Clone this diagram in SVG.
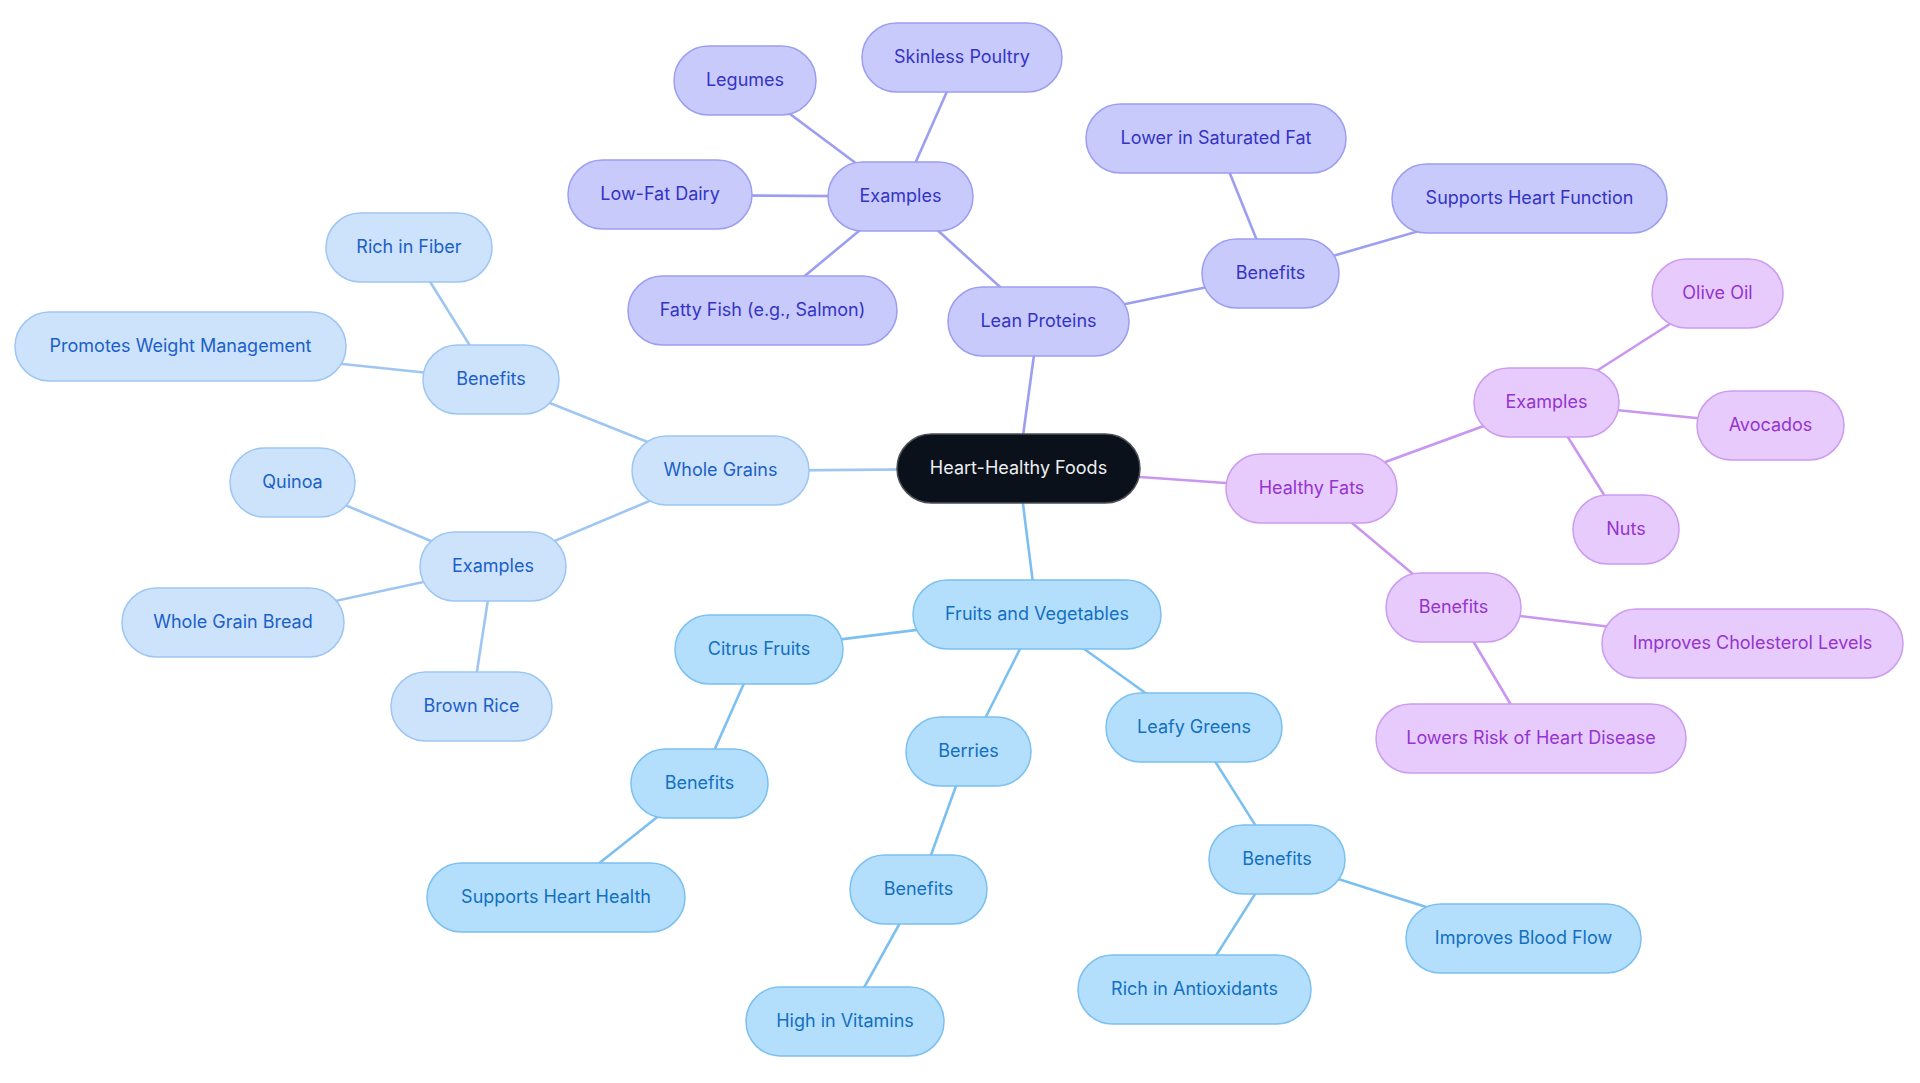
<svg xmlns="http://www.w3.org/2000/svg" width="1920" height="1083" viewBox="0 0 1920 1083">
<style>
text{font-family:Inter,"Noto Sans","Liberation Sans",sans-serif;font-size:18px;text-anchor:middle;dominant-baseline:central}
.n text{transform:translateY(-1.2px)}
.n rect{stroke-width:1.5}
.root rect{fill:#0b111b;stroke:#4b5058}
.root text{fill:#eceef1}
.wg rect{fill:#cde3fb;stroke:#9ec6f2}
.wg text{fill:#1b60c8}
.lp rect{fill:#c9cafc;stroke:#9c9ef0}
.lp text{fill:#3434c4}
.hf rect{fill:#e7cbfc;stroke:#cc9cf0}
.hf text{fill:#9534d0}
.fv rect{fill:#b3dffd;stroke:#7cc0f0}
.fv text{fill:#136fc0}
#edges line{stroke-width:2.6;fill:none}
.ewg{stroke:#9ec6f2}
.elp{stroke:#9c9ef0}
.ehf{stroke:#c996f0}
.efv{stroke:#7cc0f0}
</style>
<rect width="1920" height="1083" fill="#ffffff"/>
<g id="edges">
<line class="ewg" x1="1018.5" y1="468.5" x2="720.5" y2="471"/>
<line class="elp" x1="1018.5" y1="468.5" x2="1038.5" y2="322"/>
<line class="ehf" x1="1018.5" y1="468.5" x2="1311.5" y2="489"/>
<line class="efv" x1="1018.5" y1="468.5" x2="1037" y2="615"/>
<line class="ewg" x1="720.5" y1="471" x2="491" y2="379.5"/>
<line class="ewg" x1="491" y1="379.5" x2="409" y2="248"/>
<line class="ewg" x1="491" y1="379.5" x2="180.5" y2="347"/>
<line class="ewg" x1="720.5" y1="471" x2="493" y2="567"/>
<line class="ewg" x1="493" y1="567" x2="292.5" y2="483"/>
<line class="ewg" x1="493" y1="567" x2="233" y2="623"/>
<line class="ewg" x1="493" y1="567" x2="471.5" y2="707"/>
<line class="elp" x1="1038.5" y1="322" x2="900.5" y2="196.5"/>
<line class="elp" x1="900.5" y1="196.5" x2="745" y2="80.5"/>
<line class="elp" x1="900.5" y1="196.5" x2="962" y2="57.5"/>
<line class="elp" x1="900.5" y1="196.5" x2="660" y2="195"/>
<line class="elp" x1="900.5" y1="196.5" x2="762.5" y2="311"/>
<line class="elp" x1="1038.5" y1="322" x2="1270.5" y2="274"/>
<line class="elp" x1="1270.5" y1="274" x2="1216" y2="139"/>
<line class="elp" x1="1270.5" y1="274" x2="1529.5" y2="199"/>
<line class="ehf" x1="1311.5" y1="489" x2="1546.5" y2="403"/>
<line class="ehf" x1="1546.5" y1="403" x2="1717.5" y2="293.5"/>
<line class="ehf" x1="1546.5" y1="403" x2="1770.5" y2="425.5"/>
<line class="ehf" x1="1546.5" y1="403" x2="1626" y2="530"/>
<line class="ehf" x1="1311.5" y1="489" x2="1453.5" y2="608"/>
<line class="ehf" x1="1453.5" y1="608" x2="1752.5" y2="644"/>
<line class="ehf" x1="1453.5" y1="608" x2="1531" y2="738.5"/>
<line class="efv" x1="1037" y1="615" x2="759" y2="649.5"/>
<line class="efv" x1="759" y1="649.5" x2="699.5" y2="783.5"/>
<line class="efv" x1="699.5" y1="783.5" x2="556" y2="897.5"/>
<line class="efv" x1="1037" y1="615" x2="968.5" y2="751.5"/>
<line class="efv" x1="968.5" y1="751.5" x2="918.5" y2="889.5"/>
<line class="efv" x1="918.5" y1="889.5" x2="845" y2="1022"/>
<line class="efv" x1="1037" y1="615" x2="1194" y2="728"/>
<line class="efv" x1="1194" y1="728" x2="1277" y2="859.5"/>
<line class="efv" x1="1277" y1="859.5" x2="1194.5" y2="989.5"/>
<line class="efv" x1="1277" y1="859.5" x2="1523.5" y2="938"/>
</g>
<g id="root" class="n root"><rect x="897" y="434" width="243" height="69" rx="34.5"/><text x="1018.5" y="468.5">Heart-Healthy Foods</text></g>
<g id="whole-grains" class="n wg"><rect x="632" y="436" width="177" height="69" rx="34.5"/><text x="720.5" y="470.5">Whole Grains</text></g>
<g id="wg-benefits" class="n wg"><rect x="423" y="345" width="136" height="69" rx="34.5"/><text x="491" y="379.5">Benefits</text></g>
<g id="rich-in-fiber" class="n wg"><rect x="326" y="213" width="166" height="69" rx="34.5"/><text x="409" y="247.5">Rich in Fiber</text></g>
<g id="weight-management" class="n wg"><rect x="15" y="312" width="331" height="69" rx="34.5"/><text x="180.5" y="346.5">Promotes Weight Management</text></g>
<g id="wg-examples" class="n wg"><rect x="420" y="532" width="146" height="69" rx="34.5"/><text x="493" y="566.5">Examples</text></g>
<g id="quinoa" class="n wg"><rect x="230" y="448" width="125" height="69" rx="34.5"/><text x="292.5" y="482.5">Quinoa</text></g>
<g id="whole-grain-bread" class="n wg"><rect x="122" y="588" width="222" height="69" rx="34.5"/><text x="233" y="622.5">Whole Grain Bread</text></g>
<g id="brown-rice" class="n wg"><rect x="391" y="672" width="161" height="69" rx="34.5"/><text x="471.5" y="706.5">Brown Rice</text></g>
<g id="lean-proteins" class="n lp"><rect x="948" y="287" width="181" height="69" rx="34.5"/><text x="1038.5" y="321.5">Lean Proteins</text></g>
<g id="lp-examples" class="n lp"><rect x="828" y="162" width="145" height="69" rx="34.5"/><text x="900.5" y="196.5">Examples</text></g>
<g id="legumes" class="n lp"><rect x="674" y="46" width="142" height="69" rx="34.5"/><text x="745" y="80.5">Legumes</text></g>
<g id="skinless-poultry" class="n lp"><rect x="862" y="23" width="200" height="69" rx="34.5"/><text x="962" y="57.5">Skinless Poultry</text></g>
<g id="low-fat-dairy" class="n lp"><rect x="568" y="160" width="184" height="69" rx="34.5"/><text x="660" y="194.5">Low-Fat Dairy</text></g>
<g id="fatty-fish" class="n lp"><rect x="628" y="276" width="269" height="69" rx="34.5"/><text x="762.5" y="310.5">Fatty Fish (e.g., Salmon)</text></g>
<g id="lp-benefits" class="n lp"><rect x="1202" y="239" width="137" height="69" rx="34.5"/><text x="1270.5" y="273.5">Benefits</text></g>
<g id="lower-saturated-fat" class="n lp"><rect x="1086" y="104" width="260" height="69" rx="34.5"/><text x="1216" y="138.5">Lower in Saturated Fat</text></g>
<g id="supports-heart-function" class="n lp"><rect x="1392" y="164" width="275" height="69" rx="34.5"/><text x="1529.5" y="198.5">Supports Heart Function</text></g>
<g id="healthy-fats" class="n hf"><rect x="1226" y="454" width="171" height="69" rx="34.5"/><text x="1311.5" y="488.5">Healthy Fats</text></g>
<g id="hf-examples" class="n hf"><rect x="1474" y="368" width="145" height="69" rx="34.5"/><text x="1546.5" y="402.5">Examples</text></g>
<g id="olive-oil" class="n hf"><rect x="1652" y="259" width="131" height="69" rx="34.5"/><text x="1717.5" y="293.5">Olive Oil</text></g>
<g id="avocados" class="n hf"><rect x="1697" y="391" width="147" height="69" rx="34.5"/><text x="1770.5" y="425.5">Avocados</text></g>
<g id="nuts" class="n hf"><rect x="1573" y="495" width="106" height="69" rx="34.5"/><text x="1626" y="529.5">Nuts</text></g>
<g id="hf-benefits" class="n hf"><rect x="1386" y="573" width="135" height="69" rx="34.5"/><text x="1453.5" y="607.5">Benefits</text></g>
<g id="cholesterol" class="n hf"><rect x="1602" y="609" width="301" height="69" rx="34.5"/><text x="1752.5" y="643.5">Improves Cholesterol Levels</text></g>
<g id="lowers-risk" class="n hf"><rect x="1376" y="704" width="310" height="69" rx="34.5"/><text x="1531" y="738.5">Lowers Risk of Heart Disease</text></g>
<g id="fruits-vegetables" class="n fv"><rect x="913" y="580" width="248" height="69" rx="34.5"/><text x="1037" y="614.5">Fruits and Vegetables</text></g>
<g id="citrus-fruits" class="n fv"><rect x="675" y="615" width="168" height="69" rx="34.5"/><text x="759" y="649.5">Citrus Fruits</text></g>
<g id="citrus-benefits" class="n fv"><rect x="631" y="749" width="137" height="69" rx="34.5"/><text x="699.5" y="783.5">Benefits</text></g>
<g id="supports-heart-health" class="n fv"><rect x="427" y="863" width="258" height="69" rx="34.5"/><text x="556" y="897.5">Supports Heart Health</text></g>
<g id="berries" class="n fv"><rect x="906" y="717" width="125" height="69" rx="34.5"/><text x="968.5" y="751.5">Berries</text></g>
<g id="berries-benefits" class="n fv"><rect x="850" y="855" width="137" height="69" rx="34.5"/><text x="918.5" y="889.5">Benefits</text></g>
<g id="high-in-vitamins" class="n fv"><rect x="746" y="987" width="198" height="69" rx="34.5"/><text x="845" y="1021.5">High in Vitamins</text></g>
<g id="leafy-greens" class="n fv"><rect x="1106" y="693" width="176" height="69" rx="34.5"/><text x="1194" y="727.5">Leafy Greens</text></g>
<g id="leafy-benefits" class="n fv"><rect x="1209" y="825" width="136" height="69" rx="34.5"/><text x="1277" y="859.5">Benefits</text></g>
<g id="rich-in-antioxidants" class="n fv"><rect x="1078" y="955" width="233" height="69" rx="34.5"/><text x="1194.5" y="989.5">Rich in Antioxidants</text></g>
<g id="improves-blood-flow" class="n fv"><rect x="1406" y="904" width="235" height="69" rx="34.5"/><text x="1523.5" y="938.5">Improves Blood Flow</text></g>
</svg>
